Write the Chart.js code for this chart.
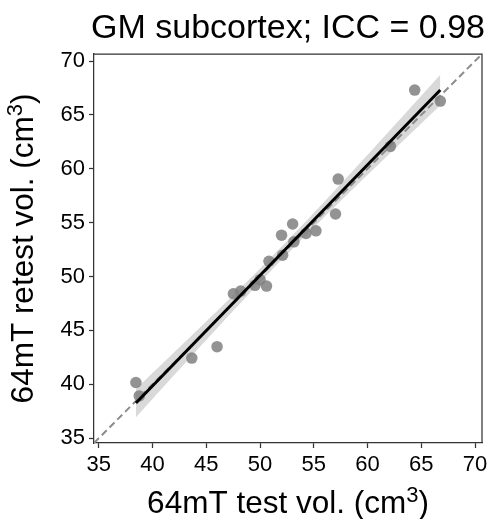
<!DOCTYPE html>
<html>
<head>
<meta charset="utf-8">
<script src="https://cdn.jsdelivr.net/npm/chart.js@4.4.1/dist/chart.umd.min.js"></script>
<style>
  html, body { margin: 0; padding: 0; background: #fff; }
  #wrap { width: 492px; height: 519px; }
</style>
</head>
<body>
<div id="wrap"><canvas id="c" width="492" height="519"></canvas></div>
<script>
// Grey-matter subcortex volumes (cm^3), test vs retest scan
const testVol   = [38.45, 38.76, 43.65, 46.00, 47.52, 48.20, 49.53, 50.00, 50.60, 50.83, 52.00,
                   52.10, 53.03, 53.15, 54.27, 55.20, 57.02, 57.27, 62.13, 64.39, 66.77];
const retestVol = [40.16, 38.92, 42.43, 43.49, 48.40, 48.65, 49.18, 49.71, 49.11, 51.42, 53.84,
                   51.98, 54.87, 53.22, 54.00, 54.24, 55.80, 59.04, 62.08, 67.30, 66.28];
const tickValues = [35, 40, 45, 50, 55, 60, 65, 70];
const axisMin = 34.55;
const axisMax = 70.65;
const chartTitle = 'GM subcortex; ICC = 0.98';
// Axis labels as [text, isSuperscript] runs
const xLabelRuns = [['64mT test vol. (cm', false], ['3', true], [')', false]];
const yLabelRuns = [['64mT retest vol. (cm', false], ['3', true], [')', false]];

const FONT = '"Liberation Sans", Arial, Helvetica, sans-serif';
const LABEL_SIZE = 31.5;
const SUP_SIZE = 22;
const SUP_RISE = 11.5;

// Ordinary least squares fit with a 95% confidence band for the mean
function linearFit(xs, ys) {
  const n = xs.length;
  const mx = xs.reduce((a, b) => a + b, 0) / n;
  const my = ys.reduce((a, b) => a + b, 0) / n;
  let sxx = 0, sxy = 0;
  for (let i = 0; i < n; i++) {
    sxx += (xs[i] - mx) ** 2;
    sxy += (xs[i] - mx) * (ys[i] - my);
  }
  const slope = sxy / sxx;
  const intercept = my - slope * mx;
  let sse = 0;
  for (let i = 0; i < n; i++) sse += (ys[i] - (intercept + slope * xs[i])) ** 2;
  const s = Math.sqrt(sse / (n - 2));
  return { slope, intercept, s, n, mx, sxx };
}
const fit = linearFit(testVol, retestVol);
const T_975_DF19 = 2.093;
const xLo = Math.min(...testVol);
const xHi = Math.max(...testVol);
const bandSteps = 60;
const bandUpper = [], bandLower = [];
for (let i = 0; i <= bandSteps; i++) {
  const x = xLo + (xHi - xLo) * i / bandSteps;
  const yhat = fit.intercept + fit.slope * x;
  const se = fit.s * Math.sqrt(1 / fit.n + (x - fit.mx) ** 2 / fit.sxx);
  bandUpper.push({ x, y: yhat + T_975_DF19 * se });
  bandLower.push({ x, y: yhat - T_975_DF19 * se });
}
const fitLine = [xLo, xHi].map(x => ({ x, y: fit.intercept + fit.slope * x }));
const identity = [{ x: axisMin, y: axisMin }, { x: axisMax, y: axisMax }];
const points = testVol.map((x, i) => ({ x, y: retestVol[i] }));

// Draws a label with a superscript run, centred on (0, baseline) of the current transform
function drawRuns(ctx, runs, baseline) {
  const fontFor = sup => (sup ? SUP_SIZE : LABEL_SIZE) + 'px ' + FONT;
  let total = 0;
  const widths = runs.map(([t, sup]) => { ctx.font = fontFor(sup); const w = ctx.measureText(t).width; total += w; return w; });
  let x = -total / 2;
  ctx.textAlign = 'left';
  ctx.textBaseline = 'alphabetic';
  runs.forEach(([t, sup], i) => {
    ctx.font = fontFor(sup);
    ctx.fillText(t, x, baseline - (sup ? SUP_RISE : 0));
    x += widths[i];
  });
}

// Top/right frame lines, heading and axis labels
const framePlugin = {
  id: 'frame',
  afterDraw(chart) {
    const { ctx, chartArea: a } = chart;
    ctx.save();
    ctx.strokeStyle = '#333';
    ctx.lineWidth = 1.25;
    ctx.beginPath();
    ctx.moveTo(a.left, a.top);
    ctx.lineTo(a.right, a.top);
    ctx.lineTo(a.right, a.bottom);
    ctx.stroke();
    ctx.fillStyle = '#000';
    ctx.font = '34px ' + FONT;
    ctx.textAlign = 'center';
    ctx.textBaseline = 'alphabetic';
    ctx.fillText(chartTitle, (a.left + a.right) / 2, 37.5);

    ctx.save();
    ctx.translate((a.left + a.right) / 2, 0);
    drawRuns(ctx, xLabelRuns, 513);
    ctx.restore();

    ctx.save();
    ctx.translate(33, (a.top + a.bottom) / 2);
    ctx.rotate(-Math.PI / 2);
    drawRuns(ctx, yLabelRuns, 0);
    ctx.restore();
    ctx.restore();
  }
};

function axisCommon() {
  return {
    type: 'linear',
    min: axisMin,
    max: axisMax,
    afterBuildTicks(scale) { scale.ticks = tickValues.map(v => ({ value: v })); },
    ticks: {
      color: '#000',
      font: { family: FONT, size: 22 },
      padding: 4,
      callback: v => String(v)
    },
    grid: {
      display: true,
      drawOnChartArea: false,
      drawTicks: true,
      tickLength: 5,
      tickWidth: 1.25,
      tickColor: '#333'
    },
    border: { display: true, color: '#333', width: 1.25 },
    title: { display: false }
  };
}

const xAxis = axisCommon();
xAxis.position = 'bottom';
xAxis.afterFit = s => { s.height = 76; };
const yAxis = axisCommon();
yAxis.position = 'left';
yAxis.afterFit = s => { s.width = 94; };

new Chart(document.getElementById('c'), {
  type: 'scatter',
  data: {
    datasets: [
      {
        type: 'line', data: bandLower, borderWidth: 0, pointRadius: 0,
        borderColor: 'rgba(0,0,0,0)', fill: false, order: 5
      },
      {
        type: 'line', data: bandUpper, borderWidth: 0, pointRadius: 0,
        borderColor: 'rgba(0,0,0,0)', backgroundColor: 'rgba(128,128,128,0.3)',
        fill: '-1', order: 4
      },
      {
        type: 'line', data: identity, borderColor: '#8c8c8c', borderWidth: 2,
        borderDash: [7, 4], pointRadius: 0, fill: false, order: 3
      },
      {
        type: 'scatter', data: points, pointRadius: 5.75,
        backgroundColor: 'rgba(128,128,128,0.85)', borderWidth: 0, order: 2
      },
      {
        type: 'line', data: fitLine, borderColor: '#000', borderWidth: 3,
        pointRadius: 0, fill: false, order: 1
      }
    ]
  },
  options: {
    responsive: false,
    animation: false,
    devicePixelRatio: 1,
    layout: { padding: { top: 54, right: 10, left: 0, bottom: 0 } },
    plugins: { legend: { display: false }, tooltip: { enabled: false }, title: { display: false } },
    scales: { x: xAxis, y: yAxis }
  },
  plugins: [framePlugin]
});
</script>
</body>
</html>
